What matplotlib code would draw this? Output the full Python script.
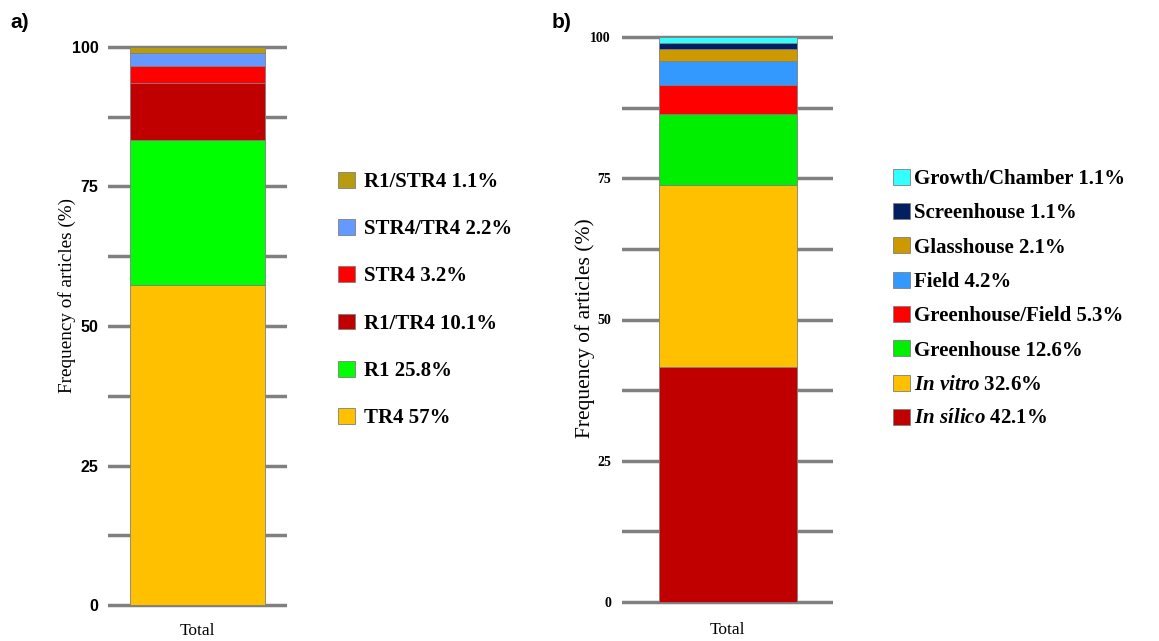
import matplotlib
matplotlib.use('Agg')
import matplotlib.pyplot as plt
import numpy as np

matplotlib.rcParams['mathtext.fontset'] = 'custom'
matplotlib.rcParams['mathtext.it'] = 'Liberation Serif:italic:bold'
matplotlib.rcParams['mathtext.rm'] = 'Liberation Serif:bold'

# panel a) data, bottom to top
a_labels = ['TR4 57%', 'R1 25.8%', 'R1/TR4 10.1%', 'STR4 3.2%',
            'STR4/TR4 2.2%', 'R1/STR4 1.1%']
a_values = [57.0, 25.8, 10.1, 3.2, 2.2, 1.1]
a_colors = ['#FFC000', '#00FF00', '#C00000', '#FF0000', '#6699FF', '#B89C10']

# panel b) data, bottom to top
b_labels = [r'$\mathit{In\ s\acute{\i}lico}$ 42.1%', r'$\mathit{In\ vitro}$ 32.6%',
            'Greenhouse 12.6%', 'Greenhouse/Field 5.3%', 'Field 4.2%',
            'Glasshouse 2.1%', 'Screenhouse 1.1%', 'Growth/Chamber 1.1%']
b_values = [42.1, 32.6, 12.6, 5.3, 4.2, 2.1, 1.1, 1.1]
b_colors = ['#C00000', '#FFC000', '#00EE00', '#FF0000', '#3399FF',
            '#CC9900', '#002060', '#33FFFF']

category = ['Total']

fig = plt.figure(figsize=(11.59, 6.41), dpi=100)
W, H = 1159.0, 641.0


def stacked(ax, values, colors, labels, width):
    # bars are drawn as shares of the total so the stack ends at 100
    shares = np.array(values) / np.sum(values) * 100
    bottom = 0.0
    handles = []
    for v, c, l in zip(shares, colors, labels):
        b = ax.bar(category, [v], bottom=bottom, width=width, color=c,
                   edgecolor='#7f7f7f', linewidth=0.6, label=l, zorder=2)
        handles.append(b)
        bottom += v
    ax.set_xlim(-1, 1)
    ax.set_ylim(-1, 101)
    ax.set_yticks([0, 25, 50, 75, 100])
    ax.set_yticks(np.arange(12.5, 100, 25), minor=True)
    ax.yaxis.grid(True, which='both', color='#808080', linewidth=2.5, zorder=0)
    ax.set_axisbelow(True)
    for s in ax.spines.values():
        s.set_visible(False)
    ax.tick_params(axis='both', which='both', length=0)
    for t in ax.get_xticklabels():
        t.set_family('Liberation Serif')
        t.set_fontsize(12.5)
    return handles


legend_font = {'family': 'Liberation Serif', 'weight': 'bold', 'size': 15}

# panel a
ax1 = fig.add_axes([108 / W, 1 - 610.6 / H, 179 / W, 569.2 / H])
h1 = stacked(ax1, a_values, a_colors, a_labels, 2 * 135 / 179.0)
ax1.tick_params(axis='y', pad=7, labelsize=11.5)
for t in ax1.get_yticklabels():
    t.set_family('Liberation Sans')
    t.set_fontweight('bold')
ax1.tick_params(axis='x', pad=9)
ax1.set_ylabel('Frequency of articles (%)', family='Liberation Serif', fontsize=13.8)
ax1.yaxis.set_label_coords(-0.18, 0.554)
fig.legend(h1[::-1], a_labels[::-1], loc='center left',
           bbox_to_anchor=(338 / W, 1 - 300 / H), frameon=False,
           prop=legend_font,
           handlelength=0.8, handleheight=0.8, handletextpad=0.45,
           labelspacing=1.3, borderpad=0, borderaxespad=0)

# panel b
ax2 = fig.add_axes([622 / W, 1 - 607.65 / H, 211 / W, 576.3 / H])
h2 = stacked(ax2, b_values, b_colors, b_labels, 2 * 138 / 211.0)
ax2.tick_params(axis='y', pad=8, labelsize=10)
for t in ax2.get_yticklabels():
    t.set_family('Liberation Serif')
    t.set_fontweight('bold')
ax2.tick_params(axis='x', pad=10)
ax2.set_ylabel('Frequency of articles (%)', family='Liberation Serif', fontsize=15.5)
ax2.yaxis.set_label_coords(-0.13, 0.485)
fig.legend(h2[::-1], b_labels[::-1], loc='center left',
           bbox_to_anchor=(893 / W, 1 - 299 / H), frameon=False,
           prop=legend_font,
           handlelength=0.8, handleheight=0.8, handletextpad=0.2,
           labelspacing=0.68, borderpad=0, borderaxespad=0)

fig.text(10 / W, 1 - 22 / H, 'a)', family='Liberation Sans', weight='bold',
         fontsize=15, va='center')
fig.text(552 / W, 1 - 22 / H, 'b)', family='Liberation Sans', weight='bold',
         fontsize=15, va='center')

fig.savefig('out.png', dpi=100)
